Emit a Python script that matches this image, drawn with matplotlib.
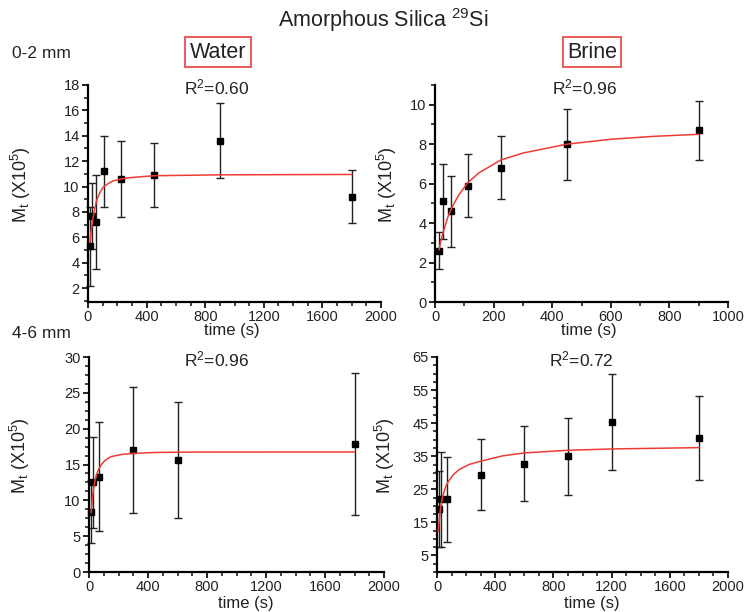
import matplotlib
matplotlib.use('Agg')
import matplotlib.pyplot as plt
from matplotlib.ticker import AutoMinorLocator

plt.rcParams['font.family'] = ['Liberation Sans', 'DejaVu Sans']
plt.rcParams['mathtext.fontset'] = 'custom'
plt.rcParams['mathtext.rm'] = 'Liberation Sans'
plt.rcParams['mathtext.it'] = 'Liberation Sans:italic'
plt.rcParams['mathtext.default'] = 'regular'

# 0-2 mm, water
w02_t = [14, 28, 56, 112, 225, 450, 900, 1800]
w02_m = [5.3, 7.65, 7.2, 11.2, 10.6, 10.9, 13.6, 9.2]
w02_err = [3.1, 2.6, 3.7, 2.8, 3.0, 2.5, 2.95, 2.1]
w02_fit_t = [14, 20, 32, 45, 59, 80, 104, 140, 173, 230, 286, 450, 900, 1800]
w02_fit_m = [5.6, 6.4, 7.35, 8.2, 8.9, 9.5, 9.95, 10.25, 10.45, 10.6, 10.7, 10.85, 10.92, 10.95]

# 0-2 mm, brine
b02_t = [14, 28, 56, 112, 225, 450, 900]
b02_m = [2.6, 5.1, 4.6, 5.9, 6.8, 8.0, 8.7]
b02_err = [0.95, 1.9, 1.8, 1.6, 1.6, 1.8, 1.5]
b02_fit_t = [14, 20, 30, 45, 60, 80, 112, 150, 225, 300, 450, 600, 750, 900]
b02_fit_m = [2.65, 3.1, 3.65, 4.35, 4.85, 5.4, 6.05, 6.55, 7.2, 7.55, 8.0, 8.25, 8.4, 8.5]

# 4-6 mm, water
w46_t = [14, 30, 70, 300, 600, 1800]
w46_m = [8.4, 12.5, 13.3, 17.0, 15.6, 17.8]
w46_err = [4.4, 6.4, 7.6, 8.8, 8.1, 9.9]
w46_fit_t = [14, 25, 41, 60, 80, 110, 150, 220, 300, 450, 700, 1800]
w46_fit_m = [8.3, 10.8, 12.8, 14.1, 14.9, 15.6, 16.1, 16.4, 16.55, 16.68, 16.73, 16.75]

# 4-6 mm, brine
b46_t = [14, 30, 70, 300, 600, 900, 1200, 1800]
b46_m = [19.0, 22.0, 22.0, 29.4, 32.8, 35.0, 45.4, 40.5]
b46_err = [11.5, 14.3, 12.8, 10.7, 11.3, 11.7, 14.5, 12.8]
b46_fit_t = [8, 15, 25, 40, 60, 80, 110, 150, 220, 300, 450, 600, 900, 1200, 1800]
b46_fit_m = [12.3, 15.5, 19.5, 23.0, 25.8, 27.5, 29.3, 30.9, 32.5, 33.5, 35.1, 36.0, 36.8, 37.2, 37.6]

r2_labels = ['0.60', '0.96', '0.96', '0.72']

W, H = 748, 612
TXT = '#222222'


def px(x, y):
    return x / W, 1 - y / H


def draw_panel(ax, t, m, err, fit_t, fit_m, r2, xlim, xticks, xminor, ylim, yticks, yminor,
               r2_x, ylab_x, xlab_x, xlab_y):
    ax.errorbar(t, m, yerr=err, fmt='s', color='black', ecolor=TXT, ms=4.5,
                capsize=3, elinewidth=1.0, capthick=1.0, zorder=2, clip_on=False)
    ax.plot(fit_t, fit_m, color='#ee3b33', lw=1.1, zorder=3)
    ax.set_xlim(*xlim)
    ax.set_ylim(*ylim)
    ax.set_xticks(xticks)
    ax.set_yticks(yticks)
    ax.xaxis.set_minor_locator(AutoMinorLocator(xminor))
    ax.yaxis.set_minor_locator(AutoMinorLocator(yminor))
    for side in ['top', 'right']:
        ax.spines[side].set_visible(False)
    for side in ['left', 'bottom']:
        ax.spines[side].set_linewidth(1.6)
    ax.tick_params(which='major', direction='out', length=4, width=1.4, labelsize=10.5,
                   colors=TXT, pad=2)
    ax.tick_params(which='minor', direction='out', length=3, width=1.2, colors=TXT)
    ax.set_xlabel('time (s)', fontsize=12, color=TXT)
    ax.xaxis.set_label_coords(xlab_x, xlab_y)
    ax.set_ylabel('M$_\\mathrm{t}$ (X10$^5$)', fontsize=13, color=TXT)
    ax.yaxis.set_label_coords(ylab_x, 0.54)
    ax.text(r2_x, 0.99, 'R$^2$=' + r2, transform=ax.transAxes, fontsize=12.5,
            ha='center', va='center', color=TXT)


fig = plt.figure(figsize=(7.48, 6.12), dpi=100)

ax1 = fig.add_axes([88 / W, 1 - 302 / H, 293 / W, 217 / H])
ax2 = fig.add_axes([435 / W, 1 - 302 / H, 293 / W, 217 / H])
ax3 = fig.add_axes([89 / W, 1 - 572 / H, 295 / W, 215 / H])
ax4 = fig.add_axes([437 / W, 1 - 572 / H, 291 / W, 215 / H])

draw_panel(ax1, w02_t, w02_m, w02_err, w02_fit_t, w02_fit_m, r2_labels[0],
           (0, 2000), range(0, 2001, 400), 4, (0.9, 18), range(2, 19, 2), 2,
           0.44, -0.188, 0.49, -0.095)
draw_panel(ax2, b02_t, b02_m, b02_err, b02_fit_t, b02_fit_m, r2_labels[1],
           (0, 1000), range(0, 1001, 200), 2, (0, 11), range(0, 11, 2), 2,
           0.509, -0.123, 0.526, -0.095)
draw_panel(ax3, w46_t, w46_m, w46_err, w46_fit_t, w46_fit_m, r2_labels[2],
           (0, 2000), range(0, 2001, 400), 4, (0, 30), range(0, 31, 5), 4,
           0.434, -0.193, 0.53, -0.112)
draw_panel(ax4, b46_t, b46_m, b46_err, b46_fit_t, b46_fit_m, r2_labels[3],
           (0, 2000), range(0, 2001, 400), 4, (0, 65), range(5, 66, 10), 4,
           0.495, -0.137, 0.533, -0.112)

fig.text(*px(383, 20), 'Amorphous Silica $^{29}$Si', fontsize=15.5, ha='center', va='center',
         color=TXT)
box = dict(boxstyle='square,pad=0.2', fc='none', ec='#e8413c', lw=1.2)
fig.text(*px(218, 52), 'Water', fontsize=15.5, ha='center', va='center', bbox=box, color=TXT)
fig.text(*px(592, 52), 'Brine', fontsize=15.5, ha='center', va='center', bbox=box, color=TXT)
fig.text(*px(12, 53), '0-2 mm', fontsize=12.5, ha='left', va='center', color=TXT)
fig.text(*px(12, 333), '4-6 mm', fontsize=12.5, ha='left', va='center', color=TXT)

fig.savefig('out.png', dpi=100, facecolor='white')
